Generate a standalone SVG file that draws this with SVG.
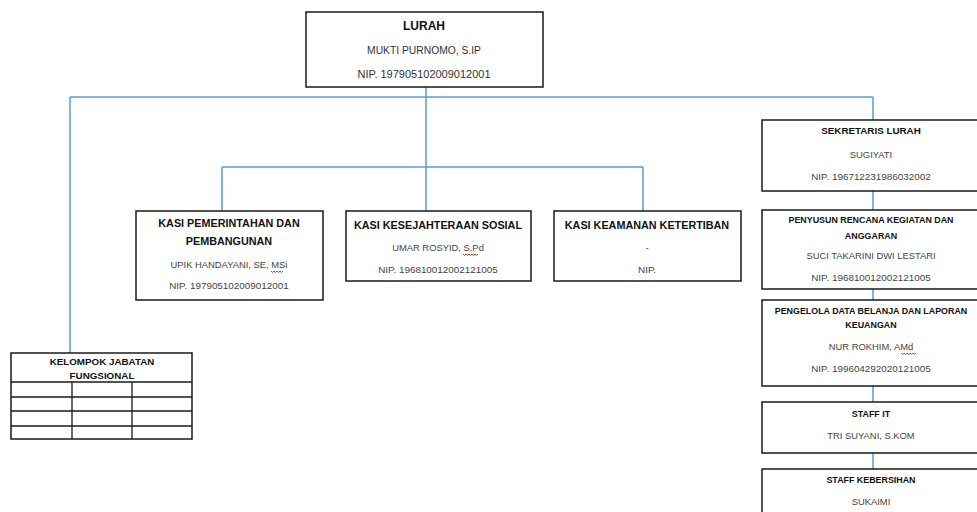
<svg xmlns="http://www.w3.org/2000/svg" width="977" height="512" viewBox="0 0 977 512">
<style>
.box{fill:#fff;stroke:#1a1a1a;stroke-width:1.5}
.cn{stroke:#5b9bd5;stroke-width:1.5;fill:none}
text{font-family:"Liberation Sans",Arial,sans-serif;text-anchor:middle}
.t{font-weight:bold;fill:#111}
.t1{font-size:12px}
.t2{font-size:10.8px}
.t3{font-size:8.9px}
.t4{font-size:9.8px}
.n{font-size:9.4px;fill:#444}
.p{font-size:9.9px;fill:#444}
.l{font-size:10.3px;fill:#333}
.sq{stroke:#e03030;stroke-width:1;fill:none}
</style>
<rect width="977" height="512" fill="#fff"/>
<g id="connectors">
<path class="cn" d="M426 87V212M70 97H873M70 97V353M873 97V120M222 167H643M222 167V211M643 167V211M873 191V210M873 282V300M873 386V402M873 444V469"/>
</g>
<g id="lurah">
<rect class="box" x="306" y="12" width="237" height="75"/>
<text class="t t1" x="424" y="30">LURAH</text>
<text class="l" x="424" y="54">MUKTI PURNOMO, S.IP</text>
<text class="l" x="424" y="78" textLength="133" lengthAdjust="spacingAndGlyphs">NIP. 197905102009012001</text>
</g>
<g id="kasi-pemerintahan">
<rect class="box" x="136" y="211" width="187" height="89"/>
<text class="t t2" x="229" y="227">KASI PEMERINTAHAN DAN</text>
<text class="t t2" x="229" y="245">PEMBANGUNAN</text>
<text class="n" x="229" y="268">UPIK HANDAYANI, SE, MSi</text>
<text class="p" x="229" y="289">NIP. 197905102009012001</text>
<path class="sq" d="M271 271l1.5 1.5 1.5-1.5 1.5 1.5 1.5-1.5 1.5 1.5 1.5-1.5 1.5 1.5 1.5-1.5"/>
</g>
<g id="kasi-kesejahteraan">
<rect class="box" x="346" y="211" width="185" height="70"/>
<text class="t t2" x="438" y="229">KASI KESEJAHTERAAN SOSIAL</text>
<text class="n" x="438" y="251">UMAR ROSYID, S.Pd</text>
<text class="p" x="438" y="273">NIP. 196810012002121005</text>
<path class="sq" d="M463 254l1.5 1.5 1.5-1.5 1.5 1.5 1.5-1.5 1.5 1.5 1.5-1.5 1.5 1.5 1.5-1.5 1.5 1.5 1.5-1.5"/>
</g>
<g id="kasi-keamanan">
<rect class="box" x="554" y="211" width="187" height="70"/>
<text class="t t2" x="647" y="229">KASI KEAMANAN KETERTIBAN</text>
<text class="n" x="647" y="251">-</text>
<text class="p" x="647" y="273">NIP.</text>
</g>
<g id="sekretaris">
<rect class="box" x="762" y="120" width="220" height="71"/>
<text class="t t4" x="871" y="134">SEKRETARIS LURAH</text>
<text class="n" x="871" y="158">SUGIYATI</text>
<text class="p" x="871" y="180">NIP. 196712231986032002</text>
</g>
<g id="penyusun">
<rect class="box" x="762" y="210" width="220" height="79"/>
<text class="t t3" x="871" y="223">PENYUSUN RENCANA KEGIATAN DAN</text>
<text class="t t3" x="871" y="239">ANGGARAN</text>
<text class="n" x="871" y="259">SUCI TAKARINI DWI LESTARI</text>
<text class="p" x="871" y="281">NIP. 196810012002121005</text>
</g>
<g id="pengelola">
<rect class="box" x="762" y="300" width="220" height="86"/>
<text class="t t3" x="871" y="314">PENGELOLA DATA BELANJA DAN LAPORAN</text>
<text class="t t3" x="871" y="328">KEUANGAN</text>
<text class="n" x="871" y="350">NUR ROKHIM, AMd</text>
<text class="p" x="871" y="372">NIP. 199604292020121005</text>
<path class="sq" d="M901 353l1.5 1.5 1.5-1.5 1.5 1.5 1.5-1.5 1.5 1.5 1.5-1.5 1.5 1.5 1.5-1.5 1.5 1.5 1.5-1.5"/>
</g>
<g id="staff-it">
<rect class="box" x="762" y="402" width="220" height="51"/>
<text class="t t3" x="871" y="417">STAFF IT</text>
<text class="n" x="871" y="439">TRI SUYANI, S.KOM</text>
</g>
<g id="staff-kebersihan">
<rect class="box" x="762" y="469" width="220" height="50"/>
<text class="t t3" x="871" y="483">STAFF KEBERSIHAN</text>
<text class="n" x="871" y="505">SUKAIMI</text>
</g>
<g id="kelompok">
<rect class="box" x="11" y="353" width="181" height="86"/>
<path fill="none" stroke="#1a1a1a" stroke-width="1.3" d="M11 382H192M11 397H192M11 411H192M11 426H192M72 382V439M132 382V439"/>
<text class="t t4" x="102" y="365">KELOMPOK JABATAN</text>
<text class="t t4" x="102" y="379">FUNGSIONAL</text>
</g>
</svg>
